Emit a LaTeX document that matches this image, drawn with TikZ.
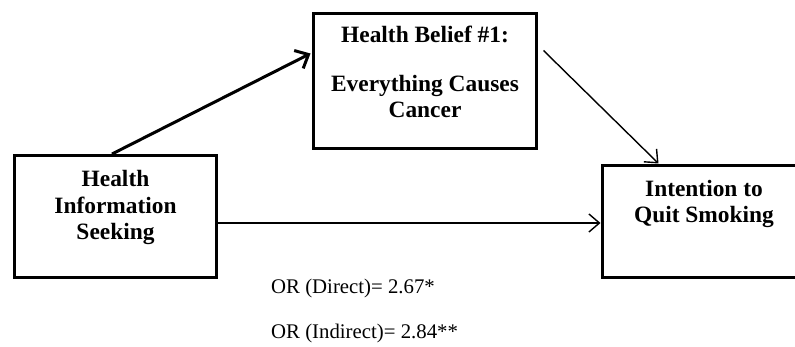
\documentclass[tikz,border=0pt]{standalone}
\usepackage{fontspec}
\setmainfont{Liberation Serif}
\usetikzlibrary{arrows.meta,calc}
\begin{document}
\begin{tikzpicture}[x=1pt,y=-1pt,
  box/.style={draw=black, line width=3pt, rectangle, inner sep=0pt, outer sep=0pt},
  btxt/.style={anchor=base, inner sep=0pt, font=\bfseries\fontsize{23.4}{26.5}\selectfont},
  ortxt/.style={anchor=base west, inner sep=0pt, font=\fontsize{20.8}{24}\selectfont},
  thickarr/.style={line width=3pt, -{Straight Barb[length=11pt, width=20pt, line width=3pt]}},
  thinarr/.style={line width=1.4pt, -{Straight Barb[length=10.5pt, width=18pt, line width=1.4pt]}}
]
\useasboundingbox (0,0) rectangle (795,347);
\clip (0,0) rectangle (795,347);
\fill[white] (0,0) rectangle (795,347);

% boxes
\node[box, minimum width=202pt, minimum height=122pt] (his) at (115.5,216.5) {};
\node[box, minimum width=223pt, minimum height=135pt] (hb) at (425,81) {};
\node[box, minimum width=220pt, minimum height=112pt] (iq) at (712.5,221.5) {};

% texts
\node[btxt] (t1a) at (115.5,187) {Health};
\node[btxt] (t1b) at (115.5,214) {Information};
\node[btxt] (t1c) at (115.5,240) {Seeking};

\node[btxt] (t2a) at (425,43) {Health Belief \#1:};
\node[btxt] (t2b) at (425,92) {Everything Causes};
\node[btxt] (t2c) at (425,118) {Cancer};

\node[btxt] (t3a) at (704,197) {Intention to};
\node[btxt] (t3b) at (704,223) {Quit Smoking};

\node[ortxt] (or1) at (271,294) {OR (Direct)= 2.67*};
\node[ortxt] (or2) at (271,338) {OR (Indirect)= 2.84**};

% connectors
\coordinate (a1s) at ($(his.north)+(-3.5,-1.5)$);
\coordinate (a1e) at ($(hb.north west)+(-3,40)$);
\draw[thickarr] (a1s) -- (a1e);

\coordinate (a2s) at ($(hb.north east)+(7,37)$);
\coordinate (a2e) at ($(iq.north west)+(56,-2)$);
\draw[thinarr] (a2s) -- (a2e);

\coordinate (a3s) at ($(his.east)+(1.5,6.5)$);
\coordinate (a3e) at ($(iq.west)+(-2,1.5)$);
\draw[thinarr] (a3s) -- (a3e);
\end{tikzpicture}
\end{document}
